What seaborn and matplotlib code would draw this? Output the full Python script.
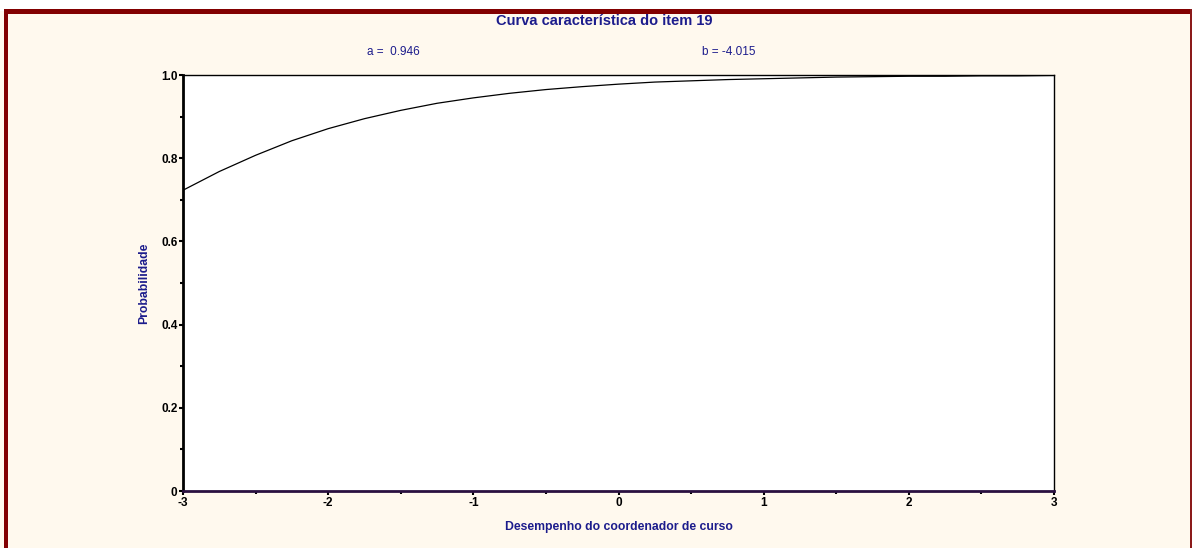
import matplotlib
matplotlib.use("Agg")
import matplotlib.pyplot as plt
from matplotlib.patches import Rectangle
from matplotlib.ticker import MultipleLocator
import seaborn as sns
import pandas as pd

# Item characteristic curve, item 19
titulo = "Curva característica do item 19"
param_a = "a =  0.946"
param_b = "b = -4.015"

theta = [-3.0, -2.75, -2.5, -2.25, -2.0, -1.75, -1.5, -1.25, -1.0, -0.75,
         -0.5, -0.25, 0.0, 0.25, 0.5, 0.75, 1.0, 1.25, 1.5, 1.75,
         2.0, 2.25, 2.5, 2.75, 3.0]
prob = [0.723, 0.768, 0.807, 0.842, 0.871, 0.895, 0.915, 0.932, 0.945, 0.956,
        0.965, 0.972, 0.978, 0.983, 0.986, 0.989, 0.991, 0.993, 0.995, 0.996,
        0.997, 0.997, 0.998, 0.998, 0.999]

x_ticks = [-3, -2, -1, 0, 1, 2, 3]
x_labels = ["-3", "-2", "-1", "0", "1", "2", "3"]
y_ticks = [0, 0.2, 0.4, 0.6, 0.8, 1.0]
y_labels = ["0", "0.2", "0.4", "0.6", "0.8", "1.0"]

sns.set_theme(style="white")
plt.rcParams["font.family"] = ["Liberation Sans", "DejaVu Sans"]

W, H = 1192, 548
fig = plt.figure(figsize=(W / 100, H / 100), dpi=100)
fig.patch.set_facecolor("white")

# cream panel with dark red frame (top, left, right)
fig.patches.append(Rectangle((0, 0), 1, 1 - 11 / H, transform=fig.transFigure,
                             facecolor="#FFF9EE", edgecolor="none", zorder=-3))
fig.patches.append(Rectangle((4 / W, 0), 4 / W, 1 - 9 / H, transform=fig.transFigure,
                             facecolor="#820000", edgecolor="none", zorder=-2))
fig.patches.append(Rectangle((4 / W, 1 - 14 / H), 1 - 4 / W, 5 / H, transform=fig.transFigure,
                             facecolor="#820000", edgecolor="none", zorder=-2))
fig.patches.append(Rectangle((1 - 2 / W, 0), 2 / W, 1 - 9 / H, transform=fig.transFigure,
                             facecolor="#8B1A1A", edgecolor="none", zorder=-2))

left, right, top, bottom = 183, 1054, 75, 491
ax = fig.add_axes([left / W, 1 - bottom / H, (right - left) / W, (bottom - top) / H])
ax.set_facecolor("white")

df = pd.DataFrame({"theta": theta, "prob": prob})
sns.lineplot(data=df, x="theta", y="prob", ax=ax, color="black", linewidth=0.9)

ax.set_xlim(-3, 3)
ax.set_ylim(0, 1)
ax.set_xticks(x_ticks)
ax.set_xticklabels(x_labels)
ax.set_yticks(y_ticks)
ax.set_yticklabels(y_labels)
ax.xaxis.set_minor_locator(MultipleLocator(0.5))
ax.yaxis.set_minor_locator(MultipleLocator(0.1))
ax.tick_params(axis="both", which="both", direction="out", colors="black",
               bottom=True, left=True, top=False, right=False,
               labelsize=8.5, pad=1)
ax.tick_params(axis="x", which="major", length=3, width=1.5)
ax.tick_params(axis="x", which="minor", length=2, width=1.5)
ax.tick_params(axis="y", which="major", length=3, width=1.5)
ax.tick_params(axis="y", which="minor", length=2.5, width=1.5)
for lbl in ax.get_xticklabels() + ax.get_yticklabels():
    lbl.set_fontweight("bold")

for side in ["top", "right"]:
    ax.spines[side].set_visible(True)
    ax.spines[side].set_color("black")
    ax.spines[side].set_linewidth(1.0)
ax.spines["left"].set_color("black")
ax.spines["left"].set_linewidth(2.0)
ax.spines["bottom"].set_color("#2A1040")
ax.spines["bottom"].set_linewidth(2.0)

navy = "#1C1C8C"
ax.set_xlabel("Desempenho do coordenador de curso", color=navy, fontsize=8.8,
              fontweight="bold", labelpad=9)
ax.set_ylabel("Probabilidade", color=navy, fontsize=8.8, fontweight="bold", labelpad=8)

fig.text(604 / W, 1 - 21 / H, titulo, ha="center", va="center", color=navy,
         fontsize=10.5, fontweight="bold")
fig.text(393 / W, 1 - 52 / H, param_a, ha="center", va="center", color=navy, fontsize=8.5)
fig.text(729 / W, 1 - 52 / H, param_b, ha="center", va="center", color=navy, fontsize=8.5)

fig.savefig("out.png", dpi=100, facecolor=fig.get_facecolor())
